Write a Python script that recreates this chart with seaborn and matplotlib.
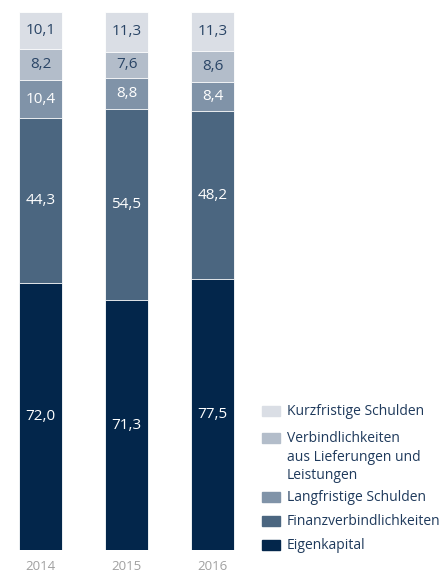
import numpy as np
import pandas as pd
import matplotlib
matplotlib.use("Agg")
import matplotlib.pyplot as plt
from matplotlib.patches import Rectangle
import seaborn as sns

years = ["2014", "2015", "2016"]
categories = ["Eigenkapital", "Finanzverbindlichkeiten", "Langfristige Schulden",
              "Verbindlichkeiten\naus Lieferungen und\nLeistungen", "Kurzfristige Schulden"]
eigenkapital = [72.0, 71.3, 77.5]
finanz = [44.3, 54.5, 48.2]
langfristig = [10.4, 8.8, 8.4]
verbindlich = [8.2, 7.6, 8.6]
kurzfristig = [10.1, 11.3, 11.3]

colors = ["#03264b", "#4b6680", "#8093a8", "#b3bdca", "#dadee5"]
label_colors = ["white", "white", "white", "#2a4566", "#2a4566"]

series = [eigenkapital, finanz, langfristig, verbindlich, kurzfristig]
vals = np.array(series)  # shape (5, 3)
totals = vals.sum(axis=0)
pct = vals / totals * 100
cum = np.cumsum(pct, axis=0)

sns.set_style("white")
plt.rcParams["font.family"] = ["Open Sans", "DejaVu Sans"]

fig = plt.figure(figsize=(4.41, 5.72), dpi=100)
W, H = 441, 572
ax = fig.add_axes([0, 22 / H, 1, 538 / H])

# draw cumulative bars from top to bottom so lower segments overlay upper ones
for i in range(len(series) - 1, -1, -1):
    df = pd.DataFrame({"year": years, "value": cum[i]})
    sns.barplot(data=df, x="year", y="value", color=colors[i], width=0.5,
                saturation=1, edgecolor="white", linewidth=0.6, ax=ax, order=years)

for i in range(len(series)):
    for j in range(len(years)):
        bottom = cum[i][j] - pct[i][j]
        ax.text(j, bottom + pct[i][j] / 2, f"{series[i][j]:.1f}".replace(".", ","),
                ha="center", va="center", fontsize=11, color=label_colors[i],
                zorder=10)

ax.set_xlim(-0.471, 4.657)
ax.set_ylim(0, 100)
ax.set_xlabel("")
ax.set_ylabel("")
ax.set_yticks([])
ax.tick_params(axis="x", length=0, pad=7, labelsize=9.5, labelcolor="#a0a0a0")
for s in ax.spines.values():
    s.set_visible(False)

# legend drawn manually (patch aligned with first text line)
leg_items = list(zip(categories, colors))[::-1]
leg_y = [411, 438, 497, 521, 545]
for (name, col), y in zip(leg_items, leg_y):
    fig.patches.append(Rectangle((262 / W, 1 - (y + 5) / H), 18 / W, 10 / H,
                                 transform=fig.transFigure, color=col, figure=fig))
    fig.text(287 / W, 1 - (y - 7) / H, name, ha="left", va="top", fontsize=10,
             color="#1f3a5c", linespacing=1.32)

fig.savefig("out.png", dpi=100)
